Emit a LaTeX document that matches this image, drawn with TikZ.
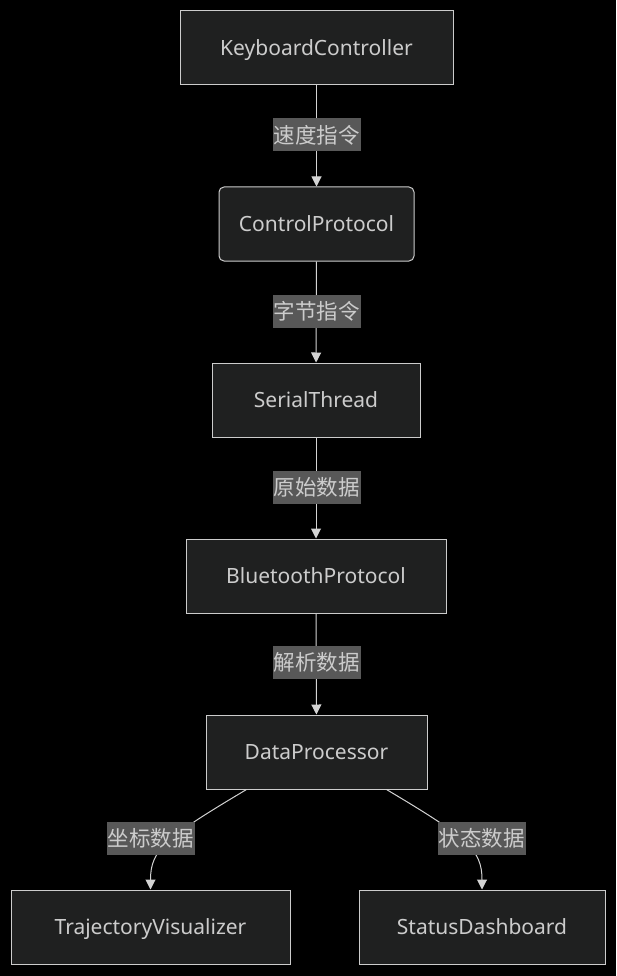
\documentclass[tikz,border=0pt]{standalone}
\usepackage{fontspec}
\setmainfont{Noto Sans}
\newfontfamily\cjk{Noto Sans CJK SC}
\usetikzlibrary{arrows.meta}
\definecolor{bgcol}{HTML}{000000}
\definecolor{boxfill}{HTML}{1F2020}
\definecolor{boxline}{HTML}{CCCCCC}
\definecolor{txtcol}{HTML}{CCCCCC}
\definecolor{lblfill}{HTML}{585858}
\definecolor{edgecol}{HTML}{D3D3D3}

\begin{document}
\begin{tikzpicture}[x=1pt,y=-1pt,
  box/.style={draw=boxline,fill=boxfill,text=txtcol,line width=1pt,minimum height=74pt,inner sep=0pt,
    text height=19pt,text depth=4pt,font=\fontsize{21}{24}\selectfont},
  lbl/.style={fill=lblfill,text=txtcol,inner sep=0pt,minimum height=33pt,minimum width=88pt,font=\cjk\fontsize{21.5}{24}\selectfont},
  link/.style={draw=edgecol,line width=1pt,-{Triangle[length=10pt,width=10pt]}}]
\fill [bgcol] (0,0) rectangle (616,976);
\useasboundingbox (0,0) rectangle (616,976);

  \node (kc) at (316.5,48) [box,minimum width=273pt] {KeyboardController};
  \node (cp) at (316.5,224) [box,rounded corners=5pt,minimum width=195pt] {ControlProtocol};
  \node (st) at (316,400) [box,minimum width=208pt] {SerialThread};
  \node (bp) at (316,576) [box,minimum width=260pt] {BluetoothProtocol};
  \node (dp) at (316.5,752) [box,minimum width=221pt] {DataProcessor};
  \node (tv) at (150.5,927) [box,minimum width=279pt] {TrajectoryVisualizer};
  \node (sd) at (482,927) [box,minimum width=246pt] {StatusDashboard};

  \draw [link] (kc) -- (cp);
  \draw [link] (cp) -- (st);
  \draw [link] (st) -- (bp);
  \draw [link] (bp) -- (dp);
  \draw [link] ([xshift=-70pt]dp.south) .. controls (165,838) and (150.5,850) .. (tv.north);
  \draw [link] ([xshift=70pt]dp.south) .. controls (468,838) and (482,850) .. (sd.north);

  \node (l1) at (316.5,135) [lbl] {速度指令};
  \node (l2) at (316.5,311) [lbl] {字节指令};
  \node (l3) at (316.5,487) [lbl] {原始数据};
  \node (l4) at (316.5,662) [lbl] {解析数据};
  \node (l5) at (150.5,838) [lbl] {坐标数据};
  \node (l6) at (481.5,838) [lbl] {状态数据};

\end{tikzpicture}
\end{document}
